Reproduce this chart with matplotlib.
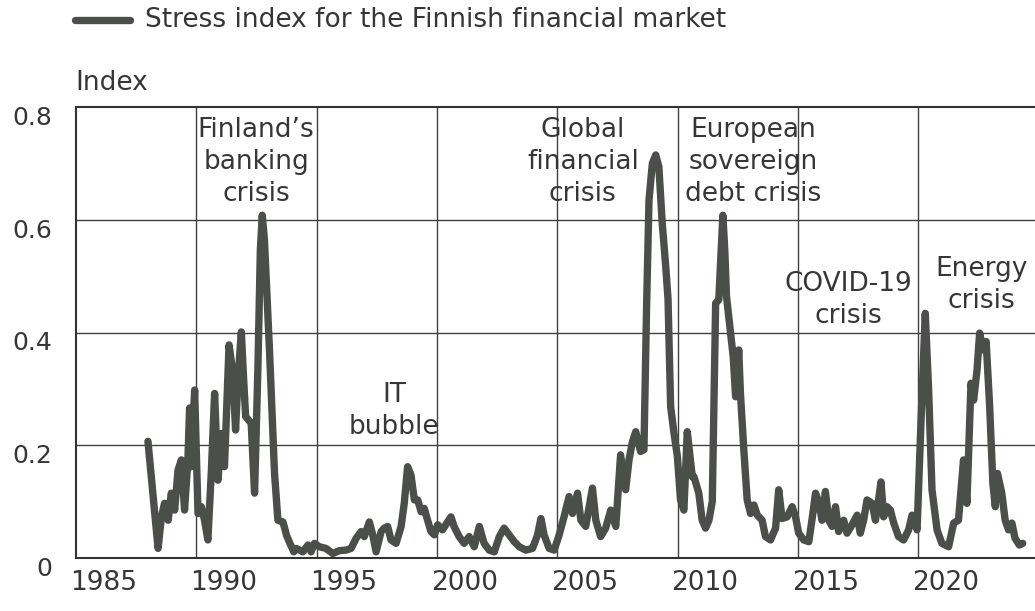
import matplotlib
matplotlib.use("Agg")
import matplotlib.pyplot as plt
import matplotlib.transforms as mtransforms

# ---- data (decimal year, index value) ----
years = [
    1987.99, 1988.41, 1988.55, 1988.68, 1988.83, 1988.96, 1989.10, 1989.24, 1989.38, 1989.51,
    1989.65, 1989.72, 1989.79, 1989.93, 1990.07, 1990.21, 1990.34, 1990.48, 1990.62, 1990.76,
    1990.90, 1991.04, 1991.17, 1991.36, 1991.52, 1991.63, 1991.73, 1991.87, 1991.96, 1992.05,
    1992.28, 1992.42, 1992.56, 1992.66, 1992.74, 1992.83, 1993.04, 1993.25, 1993.39, 1993.60,
    1993.75, 1993.88, 1994.05,
    1994.15, 1994.43, 1994.64, 1994.77, 1994.91, 1995.11, 1995.39, 1995.67, 1995.94, 1996.22,
    1996.43, 1996.64, 1996.85, 1996.98, 1997.19, 1997.33, 1997.47, 1997.68, 1997.81, 1997.95,
    1998.09, 1998.30, 1998.51, 1998.64, 1998.78, 1998.92, 1999.06, 1999.20, 1999.34, 1999.47,
    1999.61, 1999.75, 1999.89, 2000.03, 2000.23, 2000.44, 2000.58, 2000.71, 2000.92, 2001.13,
    2001.34, 2001.55, 2001.76, 2001.96, 2002.17, 2002.38, 2002.59, 2002.79, 2003.00, 2003.21,
    2003.42, 2003.69, 2003.97, 2004.18, 2004.32, 2004.45, 2004.66, 2004.87, 2005.07,
    2005.28, 2005.49, 2005.63, 2005.84, 2005.98, 2006.18, 2006.46, 2006.60, 2006.80, 2007.01,
    2007.22, 2007.43, 2007.63, 2007.84, 2007.98, 2008.12, 2008.26, 2008.46, 2008.60, 2008.71,
    2008.81, 2008.95, 2009.09, 2009.22, 2009.36, 2009.50, 2009.60, 2009.71, 2009.85, 2009.99,
    2010.12, 2010.26, 2010.40, 2010.61, 2010.68, 2010.88, 2011.02, 2011.16, 2011.30, 2011.44,
    2011.58, 2011.71, 2011.81, 2011.88, 2011.96, 2012.03, 2012.17, 2012.31, 2012.41, 2012.54,
    2012.61, 2012.75, 2012.89, 2013.03, 2013.17, 2013.31, 2013.51, 2013.65, 2013.86, 2014.07,
    2014.20, 2014.34, 2014.55, 2014.76, 2014.90, 2015.03, 2015.24, 2015.45, 2015.59, 2015.73,
    2015.86, 2016.00, 2016.14, 2016.28, 2016.42, 2016.56, 2016.69, 2016.90, 2017.04, 2017.25,
    2017.46, 2017.59, 2017.73, 2017.87, 2018.08, 2018.22, 2018.35, 2018.45, 2018.56, 2018.70,
    2018.84, 2018.98, 2019.18, 2019.39, 2019.60, 2019.74, 2019.95, 2020.11, 2020.29, 2020.43,
    2020.57, 2020.78, 2020.98, 2021.26, 2021.47, 2021.67, 2021.88, 2022.02, 2022.19, 2022.30,
    2022.44, 2022.55, 2022.69, 2022.82, 2022.96, 2023.10, 2023.20, 2023.29, 2023.47, 2023.61,
    2023.75, 2023.89, 2024.02, 2024.20, 2024.34,
]
stress = [
    0.207, 0.017, 0.073, 0.097, 0.067, 0.115, 0.085, 0.156, 0.174, 0.085,
    0.174, 0.266, 0.162, 0.298, 0.079, 0.091, 0.067, 0.032, 0.150, 0.292,
    0.138, 0.221, 0.162, 0.378, 0.328, 0.227, 0.316, 0.401, 0.322, 0.251,
    0.239, 0.115, 0.339, 0.546, 0.608, 0.564, 0.369, 0.150, 0.067, 0.064,
    0.040, 0.027, 0.011,
    0.017, 0.011, 0.023, 0.011, 0.026, 0.020, 0.017, 0.008, 0.013, 0.014,
    0.017, 0.035, 0.047, 0.038, 0.064, 0.041, 0.011, 0.047, 0.053, 0.056,
    0.032, 0.026, 0.056, 0.097, 0.162, 0.147, 0.103, 0.103, 0.082, 0.088,
    0.067, 0.047, 0.041, 0.059, 0.050, 0.064, 0.073, 0.056, 0.038, 0.026,
    0.038, 0.020, 0.056, 0.026, 0.014, 0.011, 0.038, 0.053, 0.041, 0.029,
    0.020, 0.014, 0.017, 0.041, 0.070, 0.041, 0.017, 0.014, 0.040,
    0.073, 0.109, 0.079, 0.115, 0.067, 0.056, 0.124, 0.067, 0.038, 0.053,
    0.085, 0.056, 0.183, 0.121, 0.174, 0.206, 0.224, 0.189, 0.192, 0.446,
    0.635, 0.700, 0.715, 0.694, 0.594, 0.520, 0.460, 0.268, 0.221, 0.180,
    0.103, 0.085, 0.224, 0.144, 0.144, 0.115, 0.067, 0.053, 0.067, 0.100,
    0.452, 0.458, 0.546, 0.608, 0.546, 0.464, 0.410, 0.357, 0.286, 0.369,
    0.292, 0.192, 0.103, 0.079, 0.094, 0.076, 0.067, 0.038, 0.032, 0.053,
    0.121, 0.070, 0.073, 0.091, 0.073, 0.044, 0.032, 0.029, 0.070, 0.115,
    0.100, 0.067, 0.118, 0.067, 0.056, 0.091, 0.047, 0.067, 0.044, 0.059,
    0.076, 0.044, 0.067, 0.103, 0.097, 0.067, 0.103, 0.135, 0.073, 0.091,
    0.085, 0.062, 0.038, 0.032, 0.050, 0.076, 0.050, 0.239, 0.434, 0.298,
    0.121, 0.050, 0.026, 0.020, 0.062, 0.067, 0.174, 0.097, 0.310, 0.280,
    0.333, 0.399, 0.369, 0.384, 0.274, 0.132, 0.091, 0.150, 0.115, 0.067,
    0.050, 0.062, 0.035, 0.023, 0.026,
]

tick_years = [1985, 1990, 1995, 2000, 2005, 2010, 2015, 2020]
y_ticks = [0, 0.2, 0.4, 0.6, 0.8]
y_tick_labels = ["0", "0.2", "0.4", "0.6", "0.8"]

annotations = [
    ("Finland\u2019s\nbanking\ncrisis", 1992.49, 0.7025),
    ("IT\nbubble", 1998.22, 0.2616),
    ("Global\nfinancial\ncrisis", 2006.06, 0.7025),
    ("European\nsovereign\ndebt crisis", 2013.15, 0.7025),
    ("COVID-19\ncrisis", 2017.10, 0.4585),
    ("Energy\ncrisis", 2022.61, 0.485),
]

series_label = "Stress index for the Finnish financial market"
y_axis_title = "Index"

# ---- styling ----
plt.rcParams["font.family"] = ["DejaVu Sans"]
TEXT = "#363636"
LINE = "#4a4f4a"
GRID = "#404040"

fig = plt.figure(figsize=(10.35, 6.11), dpi=100)
ax = fig.add_axes([76 / 1035, 53 / 611, 959 / 1035, 451 / 611])

ax.plot(years, stress, color=LINE, lw=5.3, solid_joinstyle="round",
        solid_capstyle="round", zorder=3)

ax.set_xlim(1985.06, 2024.85)
ax.set_ylim(0, 0.8)

# grid
for yr in tick_years[1:]:
    ax.axvline(yr, color=GRID, lw=1.0, zorder=1)
for yv in y_ticks[1:-1]:
    ax.axhline(yv, color=GRID, lw=1.0, zorder=1)

for s in ["left", "bottom", "top"]:
    ax.spines[s].set_color("#333333")
    ax.spines[s].set_linewidth(1.5)
ax.spines["right"].set_visible(False)

ax.set_xticks(tick_years)
ax.set_xticklabels([str(t) for t in tick_years])
ax.set_yticks(y_ticks)
ax.set_yticklabels(y_tick_labels)
ax.tick_params(axis="both", length=0, colors=TEXT)
ax.tick_params(axis="x", pad=9, labelsize=19)
ax.tick_params(axis="y", pad=17, labelsize=18)

xoff = mtransforms.ScaledTranslation(-4.5 / 72, 0, fig.dpi_scale_trans)
for lab in ax.get_xticklabels():
    lab.set_horizontalalignment("left")
    lab.set_transform(lab.get_transform() + xoff)
yoff = mtransforms.ScaledTranslation(0, -6 / 72, fig.dpi_scale_trans)
for lab in ax.get_yticklabels():
    lab.set_transform(lab.get_transform() + yoff)

for txt, x, y in annotations:
    ax.text(x, y, txt, ha="center", va="center", multialignment="center",
            fontsize=19, color=TEXT, linespacing=1.3, zorder=4)

# legend line + text at top
fig.add_artist(plt.Line2D([75 / 1035, 130 / 1035], [1 - 20 / 611, 1 - 20 / 611],
                          color=LINE, lw=5.3, solid_capstyle="round"))
fig.text(145 / 1035, 1 - 20 / 611, series_label, ha="left", va="center",
         fontsize=19, color=TEXT)
fig.text(75 / 1035, 1 - 83 / 611, y_axis_title, ha="left", va="center",
         fontsize=19, color=TEXT)

fig.savefig("out.png", dpi=100)
